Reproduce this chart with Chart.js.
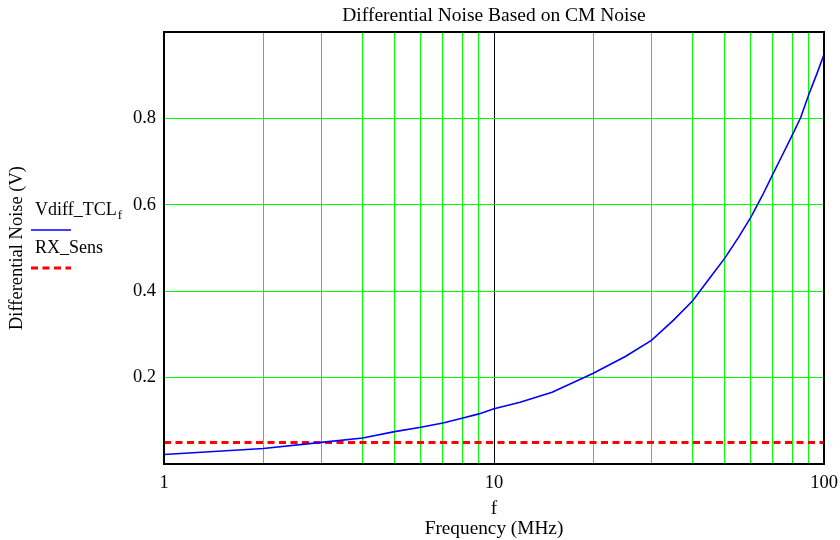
<!DOCTYPE html>
<html>
<head>
<meta charset="utf-8">
<script src="https://cdn.jsdelivr.net/npm/chart.js@4/dist/chart.umd.min.js"></script>
<style>
  html, body { margin: 0; padding: 0; background: #fff; }
  #wrap { width: 840px; height: 540px; }
</style>
</head>
<body>
<div id="wrap"><canvas id="c" width="840" height="540"></canvas></div>
<script>
// ---- data ----
const chartTitle = 'Differential Noise Based on CM Noise';
const xAxisTitle = ['f', 'Frequency (MHz)'];
const yAxisTitle = 'Differential Noise (V)';

const freqMHz   = [1, 2, 3, 4, 5, 6, 7, 8, 9, 10, 12, 15, 20, 25, 30, 35, 40, 45, 50, 55, 60, 65, 70, 75, 80, 85, 90, 95, 100];
const vdiffTCL  = [0.022, 0.036, 0.050, 0.060, 0.075, 0.085, 0.095, 0.106, 0.116, 0.128, 0.143, 0.166, 0.210, 0.249, 0.286, 0.333, 0.378, 0.430, 0.476, 0.524, 0.571, 0.621, 0.671, 0.717, 0.760, 0.802, 0.856, 0.902, 0.948];

const rxSensFreq = [1, 100];
const rxSens     = [0.05, 0.05];

const seriesNames = ['Vdiff_TCL', 'RX_Sens'];
const seriesSub   = ['f', ''];

const xTickValues = [1, 2, 3, 4, 5, 6, 7, 8, 9, 10, 20, 30, 40, 50, 60, 70, 80, 90, 100];
const xTickLabels = ['1', '10', '100'];
const yTickValues = [0, 0.2, 0.4, 0.6, 0.8, 1.0];
const yTickLabels = ['0.2', '0.4', '0.6', '0.8'];

// ---- chart ----
const SERIF = "'Liberation Serif', 'Times New Roman', serif";
const GREEN = '#00ff00';

const pts = (xs, ys) => xs.map((x, i) => ({ x: x, y: ys[i] }));

const decor = {
  id: 'decor',
  afterDraw(chart) {
    const { ctx, chartArea: a } = chart;
    ctx.save();
    // frame
    ctx.strokeStyle = '#000';
    ctx.lineWidth = 2;
    ctx.setLineDash([]);
    ctx.strokeRect(a.left, a.top, a.right - a.left, a.bottom - a.top);
    // title
    ctx.fillStyle = '#000';
    ctx.font = '19.5px ' + SERIF;
    ctx.textAlign = 'center';
    ctx.textBaseline = 'alphabetic';
    ctx.fillText(chartTitle, (a.left + a.right) / 2, 21);
    // legend
    const ds = chart.data.datasets;
    const lx = 35, baseY = [215, 253], lineY = [230, 268];
    ds.forEach((d, i) => {
      ctx.textAlign = 'left';
      ctx.font = '18px ' + SERIF;
      ctx.fillStyle = '#000';
      ctx.fillText(d.label, lx, baseY[i]);
      if (seriesSub[i]) {
        const w = ctx.measureText(d.label).width;
        ctx.font = '13px ' + SERIF;
        ctx.fillText(seriesSub[i], lx + w + 1, baseY[i] + 4);
      }
      ctx.beginPath();
      ctx.strokeStyle = d.borderColor;
      ctx.lineWidth = d.borderWidth;
      ctx.setLineDash(d.borderDash || []);
      ctx.moveTo(31, lineY[i]);
      ctx.lineTo(71, lineY[i]);
      ctx.stroke();
    });
    ctx.restore();
  }
};

new Chart(document.getElementById('c'), {
  type: 'line',
  data: {
    datasets: [
      {
        label: seriesNames[0],
        data: pts(freqMHz, vdiffTCL),
        borderColor: '#0000ff',
        borderWidth: 1.6,
        pointRadius: 0,
        tension: 0,
        fill: false
      },
      {
        label: seriesNames[1],
        data: pts(rxSensFreq, rxSens),
        borderColor: '#ff0000',
        borderWidth: 3,
        borderDash: [7, 4.5],
        pointRadius: 0,
        tension: 0,
        fill: false
      }
    ]
  },
  options: {
    responsive: false,
    animation: false,
    layout: { padding: { top: 32, right: 16, left: 0, bottom: 0 } },
    plugins: {
      legend: { display: false },
      title: { display: false },
      tooltip: { enabled: false }
    },
    scales: {
      x: {
        type: 'logarithmic',
        position: 'bottom',
        min: 1,
        max: 100,
        border: { display: false },
        grid: {
          drawTicks: false,
          lineWidth: 1,
          color: (c) => (c.tick && Math.abs(c.tick.value - 10) < 1e-9) ? '#000000' : GREEN
        },
        afterBuildTicks: (axis) => { axis.ticks = xTickValues.map(v => ({ value: v })); },
        afterFit: (axis) => { axis.height = 76; axis.paddingLeft = 0; axis.paddingRight = 0; },
        ticks: {
          autoSkip: false,
          maxRotation: 0,
          padding: 8,
          color: '#000',
          font: { family: SERIF, size: 18.5 },
          callback: (v) => {
            const s = String(v);
            return xTickLabels.includes(s) ? s : '';
          }
        },
        title: {
          display: true,
          text: xAxisTitle,
          color: '#000',
          font: { family: SERIF, size: 19.3, lineHeight: 1.036 },
          padding: { top: 0, bottom: 1 }
        }
      },
      y: {
        type: 'linear',
        position: 'left',
        min: 0,
        max: 1,
        border: { display: false },
        grid: {
          drawTicks: false,
          lineWidth: 1,
          color: (c) => (c.tick && c.tick.value > 0.05 && c.tick.value < 0.95) ? GREEN : 'rgba(0,0,0,0)'
        },
        afterBuildTicks: (axis) => { axis.ticks = yTickValues.map(v => ({ value: v })); },
        afterFit: (axis) => { axis.width = 164; },
        ticks: {
          padding: 8,
          color: '#000',
          font: { family: SERIF, size: 18.5 },
          callback: (v) => {
            const s = (Math.round(v * 10) / 10).toString();
            return yTickLabels.includes(s) ? s : '';
          }
        },
        title: {
          display: true,
          text: yAxisTitle,
          color: '#000',
          font: { family: SERIF, size: 18.5, lineHeight: 1.11 },
          padding: { top: 7, bottom: 0 }
        }
      }
    }
  },
  plugins: [decor]
});
</script>
</body>
</html>
